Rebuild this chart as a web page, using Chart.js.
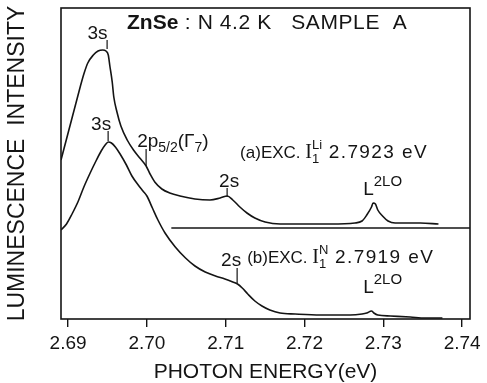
<!DOCTYPE html>
<html>
<head>
<meta charset="utf-8">
<script src="https://cdn.jsdelivr.net/npm/chart.js@4.4.1/dist/chart.umd.min.js"></script>
<style>
  html, body { margin: 0; padding: 0; background: #fff; }
</style>
</head>
<body>
<canvas id="spectrum" width="487" height="383"></canvas>
<script>
// Spectrum (a): excitation at I1(Li), photon energy (eV) vs intensity (arb. units)
const energyA = [2.6891, 2.6895, 2.6900, 2.6905, 2.6910, 2.6915, 2.6920, 2.6925, 2.6932, 2.6938,
  2.6944, 2.6948, 2.6951, 2.6953, 2.6956, 2.6958, 2.6962, 2.6967, 2.6975, 2.6983,
  2.6991, 2.6999, 2.7004, 2.7010, 2.7019, 2.7029, 2.7042, 2.7061, 2.7080, 2.7093,
  2.7102, 2.7109, 2.7118, 2.7127, 2.7137, 2.7150, 2.7169, 2.7194, 2.7233, 2.7264,
  2.7273, 2.7279, 2.7285, 2.7287, 2.7290, 2.7293, 2.7299, 2.7306, 2.7315, 2.7347,
  2.7370];
const intensityA = [159, 171, 186, 201, 216, 231, 245, 256, 264, 268,
  269, 268, 264, 253, 237, 222, 207, 193, 179, 169,
  161, 153, 145, 137, 130, 126, 123, 120, 119, 121,
  123, 119, 112, 106, 101, 97, 95, 95, 95, 96,
  98, 104, 112, 116, 115, 109, 103, 98, 96, 96,
  95];

// Spectrum (b): excitation at I1(N)
const energyB = [2.6891, 2.6898, 2.6905, 2.6913, 2.6920, 2.6928, 2.6936, 2.6942, 2.6947, 2.6951,
  2.6955, 2.6960, 2.6966, 2.6974, 2.6981, 2.6989, 2.6995, 2.7000, 2.7007, 2.7014,
  2.7023, 2.7036, 2.7049, 2.7061, 2.7074, 2.7087, 2.7099, 2.7109, 2.7115, 2.7121,
  2.7128, 2.7137, 2.7146, 2.7156, 2.7169, 2.7188, 2.7220, 2.7258, 2.7273, 2.7279,
  2.7285, 2.7288, 2.7293, 2.7309, 2.7334, 2.7353, 2.7375];
const intensityB = [89, 95, 105, 118, 132, 146, 159, 168, 174, 177,
  176, 172, 165, 154, 143, 134, 128, 123, 111, 99,
  86, 72, 61, 53, 47, 43, 40, 37, 35, 31,
  25, 18, 13, 9, 6, 5, 4, 4, 5, 6,
  8, 6, 4, 3, 2, 1, 1];

// zero line of spectrum (a)
const baseEnergyA = [2.7031, 2.7410];
const baseIntensityA = [91, 91];

const tickValues = [2.69, 2.70, 2.71, 2.72, 2.73, 2.74];
const tickLabels = ['2.69', '2.70', '2.71', '2.72', '2.73', '2.74'];

const INK = '#141414';
const SANS = '"Liberation Sans", Arial, sans-serif';

function toPoints(xs, ys) {
  return xs.map((x, i) => ({ x: x, y: ys[i] }));
}

// Peak labels, placed in data units; parts are drawn one after another
const peakLabels = [
  { x: 2.69374, y: 280, align: 'center', parts: [{ t: '3s' }] },
  { x: 2.69419, y: 189, align: 'center', parts: [{ t: '3s' }] },
  { x: 2.69876, y: 172, align: 'left', parts: [
    { t: '2' }, { t: 'p' }, { t: '5/2', size: 14, dy: 5 }, { t: '(Γ' }, { t: '7', size: 14, dy: 5 }, { t: ')' }
  ] },
  { x: 2.71043, y: 132, align: 'center', parts: [{ t: '2s' }] },
  { x: 2.71183, y: 161, align: 'left', parts: [
    { t: '(a)EXC. ', size: 17 }, { t: 'I', size: 20, serif: true }, { t: 'Li', size: 13, dy: -9 },
    { t: '1', size: 13, dy: 5, overlap: true }, { t: ' 2.7923 eV', size: 19, ls: 1.4 }
  ] },
  { x: 2.72744, y: 124, align: 'left', parts: [{ t: 'L' }, { t: '2LO', size: 15, dy: -9 }] },
  { x: 2.71069, y: 53, align: 'center', parts: [{ t: '2s' }] },
  { x: 2.71272, y: 56, align: 'left', parts: [
    { t: '(b)EXC. ', size: 17 }, { t: 'I', size: 20, serif: true }, { t: 'N', size: 13, dy: -9 },
    { t: '1', size: 13, dy: 5, overlap: true }, { t: ' 2.7919 eV', size: 19, ls: 1.4 }
  ] },
  { x: 2.72744, y: 26, align: 'left', parts: [{ t: 'L' }, { t: '2LO', size: 15, dy: -9 }] }
];

// short leader lines from label to feature
const leaders = [
  { x: 2.69495, y0: 279, y1: 270 },
  { x: 2.69508, y0: 188, y1: 178 },
  { x: 2.69990, y0: 170, y1: 153 },
  { x: 2.71018, y0: 131, y1: 122 },
  { x: 2.71145, y0: 51, y1: 36 }
];

function drawParts(ctx, x, y, parts, align) {
  const setFont = p => {
    ctx.font = (p.size || 19) + 'px ' + (p.serif ? '"Liberation Serif", serif' : SANS);
    ctx.letterSpacing = (p.ls || 0) + 'px';
  };
  let total = 0, lastW = 0;
  parts.forEach(p => {
    setFont(p);
    const w = ctx.measureText(p.t).width;
    if (p.overlap) { total += Math.max(0, w - lastW); } else { total += w; }
    lastW = w;
  });
  let cx = align === 'center' ? x - total / 2 : x;
  let prevX = cx;
  lastW = 0;
  parts.forEach(p => {
    setFont(p);
    const w = ctx.measureText(p.t).width;
    if (p.overlap) {
      ctx.fillText(p.t, prevX, y + (p.dy || 0));
      cx = prevX + Math.max(w, lastW);
    } else {
      ctx.fillText(p.t, cx, y + (p.dy || 0));
      prevX = cx;
      cx += w;
    }
    lastW = w;
  });
  ctx.letterSpacing = '0px';
}

const annotate = {
  id: 'annotate',
  afterDraw(chart) {
    const { ctx, chartArea, scales } = chart;
    const xs = scales.x, ys = scales.y;
    ctx.save();
    // frame
    ctx.strokeStyle = INK;
    ctx.lineWidth = 1.6;
    ctx.strokeRect(chartArea.left, chartArea.top, chartArea.right - chartArea.left, chartArea.bottom - chartArea.top);

    ctx.fillStyle = INK;
    ctx.textBaseline = 'alphabetic';
    ctx.textAlign = 'left';

    // title inside the frame
    let tx = chartArea.left + 66, ty = chartArea.top + 21;
    ctx.font = 'bold 21px ' + SANS;
    ctx.fillText('ZnSe', tx, ty);
    tx += ctx.measureText('ZnSe').width;
    ctx.font = '21px ' + SANS;
    ctx.letterSpacing = '0.6px';
    ctx.fillText(' : N 4.2 K   SAMPLE  A', tx, ty);
    ctx.letterSpacing = '0px';

    peakLabels.forEach(l => {
      drawParts(ctx, xs.getPixelForValue(l.x), ys.getPixelForValue(l.y), l.parts, l.align);
    });

    ctx.lineWidth = 1.2;
    leaders.forEach(t => {
      const px = xs.getPixelForValue(t.x);
      ctx.beginPath();
      ctx.moveTo(px, ys.getPixelForValue(t.y0));
      ctx.lineTo(px, ys.getPixelForValue(t.y1));
      ctx.stroke();
    });
    ctx.restore();
  }
};

const lineStyle = {
  borderColor: INK,
  borderWidth: 1.6,
  pointRadius: 0,
  fill: false,
  cubicInterpolationMode: 'monotone'
};

new Chart(document.getElementById('spectrum'), {
  type: 'line',
  data: {
    datasets: [
      Object.assign({ label: '(a)', data: toPoints(energyA, intensityA) }, lineStyle),
      Object.assign({ label: '(b)', data: toPoints(energyB, intensityB) }, lineStyle),
      Object.assign({ label: 'zero (a)', data: toPoints(baseEnergyA, baseIntensityA) }, lineStyle, { borderWidth: 1.4 })
    ]
  },
  options: {
    responsive: false,
    animation: false,
    layout: { padding: { top: 8, right: 17, left: 0, bottom: 0 } },
    plugins: { legend: { display: false }, tooltip: { enabled: false } },
    scales: {
      x: {
        type: 'linear',
        min: 2.6891,
        max: 2.7410,
        afterBuildTicks: scale => { scale.ticks = tickValues.map(v => ({ value: v })); },
        afterFit: scale => { scale.height = 64; },
        border: { display: false },
        grid: { drawOnChartArea: false, drawTicks: true, tickLength: 8, color: INK, lineWidth: 1.4 },
        ticks: {
          color: INK,
          padding: 5,
          maxRotation: 0,
          font: { family: SANS, size: 19 },
          callback: (v) => tickLabels[tickValues.findIndex(t => Math.abs(t - v) < 1e-6)]
        },
        title: {
          display: true,
          text: 'PHOTON ENERGY(eV)',
          color: INK,
          font: { family: SANS, size: 21, lineHeight: 1 },
          padding: { top: 0, bottom: 0 }
        }
      },
      y: {
        min: 0,
        max: 311,
        afterFit: scale => { scale.width = 61; },
        border: { display: false },
        grid: { display: false },
        ticks: { display: false },
        title: {
          display: true,
          text: 'LUMINESCENCE  INTENSITY',
          color: INK,
          font: { family: SANS, size: 23, lineHeight: 1 },
          padding: { top: 6, bottom: 0 }
        }
      }
    }
  },
  plugins: [annotate]
});
</script>
</body>
</html>
